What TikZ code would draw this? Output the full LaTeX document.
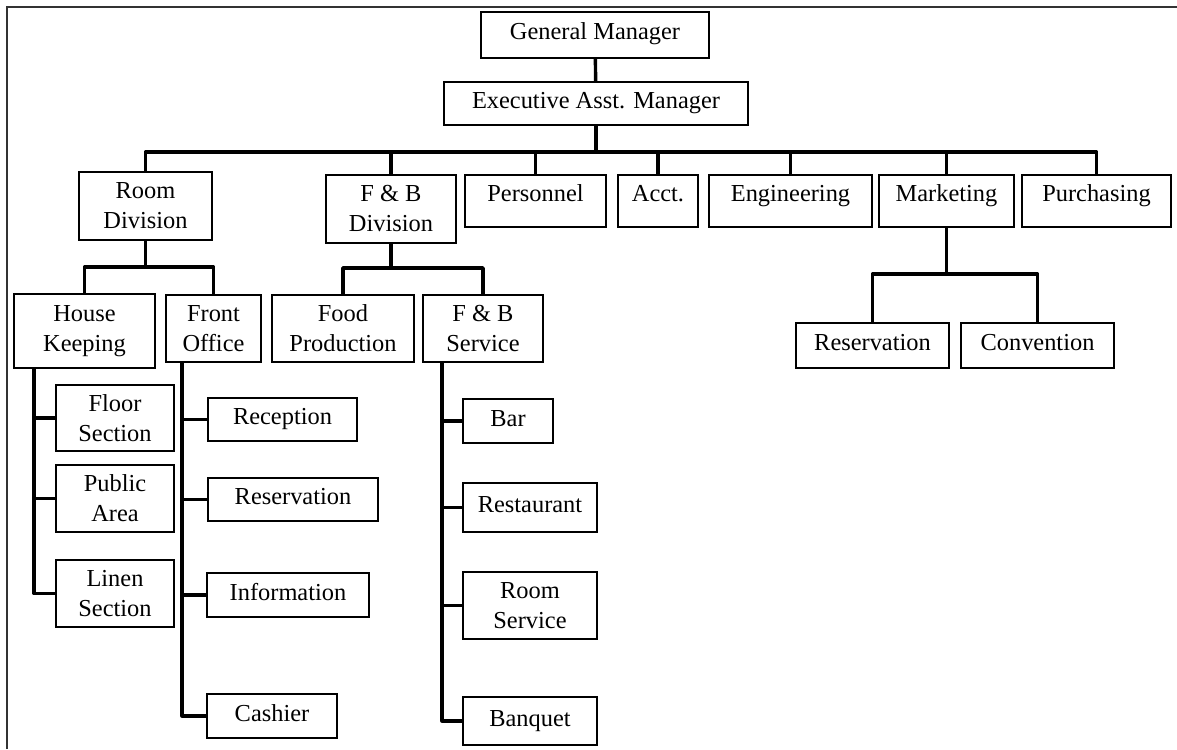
\documentclass[tikz,border=0pt]{standalone}
\usepackage{fontspec}
\setmainfont{Liberation Serif}
\usetikzlibrary{shadows}
\tikzset{
	box/.style={draw,line width=0.9pt,inner sep=0pt,align=center,fill=white,
		font=\fontsize{12.2}{15}\selectfont,
		drop shadow={shadow xshift=0.7pt,shadow yshift=-0.7pt,opacity=0.45,fill=black}},
	one/.style={text height=9pt,text depth=4pt},
	top/.style={text height=9pt,text depth=9pt},
	conn/.style={line width=1.7pt,line join=round,line cap=round},
}
\begin{document}
\begin{tikzpicture}[x=0.5pt,y=-0.5pt]
	\useasboundingbox (0,0) rectangle (1177,749);
	\draw[line width=0.8pt,black!80] (7,749)--(7,7)--(1177,7);
	% top
	\node[box,one,minimum width=114pt,minimum height=23pt] (gm) at (595,35) {General Manager};
	\node[box,one,minimum width=152pt,minimum height=21.5pt] (eam) at (596,103.5) {Executive Asst. Manager};
	% second row
	\node[box,minimum width=66.5pt,minimum height=34pt] (roomdiv) at (145.5,206) {Room\\Division};
	\node[box,minimum width=65pt,minimum height=34pt] (fbdiv) at (391,209) {F \& B\\Division};
	\node[box,top,minimum width=70.5pt,minimum height=26pt] (pers) at (535.5,201) {Personnel};
	\node[box,top,minimum width=40pt,minimum height=26pt] (acct) at (658,201) {Acct.};
	\node[box,top,minimum width=81.5pt,minimum height=26pt] (eng) at (790.5,201) {Engineering};
	\node[box,top,minimum width=67.5pt,minimum height=26pt] (mkt) at (946.5,201) {Marketing};
	\node[box,top,minimum width=74.5pt,minimum height=26pt] (purch) at (1096.5,201) {Purchasing};
	% third row
	\node[box,minimum width=70.5pt,minimum height=37pt] (hk) at (84.5,331) {House\\Keeping};
	\node[box,minimum width=47.5pt,minimum height=33.5pt] (fo) at (213.5,328.5) {Front\\Office};
	\node[box,minimum width=71pt,minimum height=33.5pt] (food) at (343,328.5) {Food\\Production};
	\node[box,minimum width=60pt,minimum height=33.5pt] (fbs) at (483,328.5) {F \& B\\Service};
	\node[box,one,minimum width=76.5pt,minimum height=22.5pt] (mres) at (872.5,345.5) {Reservation};
	\node[box,one,minimum width=76.5pt,minimum height=22.5pt] (conv) at (1037.5,345.5) {Convention};
	% house keeping
	\node[box,minimum width=59pt,minimum height=33pt] (floor) at (115,418) {Floor\\Section};
	\node[box,minimum width=59pt,minimum height=33.5pt] (public) at (115,498.5) {Public\\Area};
	\node[box,minimum width=59pt,minimum height=33.5pt] (linen) at (115,593.5) {Linen\\Section};
	% front office
	\node[box,one,minimum width=74.5pt,minimum height=21.5pt] (rec) at (282.5,419.5) {Reception};
	\node[box,one,minimum width=85pt,minimum height=21.5pt] (fres) at (293,499.5) {Reservation};
	\node[box,one,minimum width=81pt,minimum height=22pt] (info) at (288,595) {Information};
	\node[box,one,minimum width=65pt,minimum height=22pt] (cash) at (272,716) {Cashier};
	% f & b service
	\node[box,one,minimum width=45pt,minimum height=22pt] (bar) at (508,421) {Bar};
	\node[box,one,minimum width=67pt,minimum height=24.5pt] (rest) at (530,507.5) {Restaurant};
	\node[box,minimum width=67pt,minimum height=33.5pt] (rs) at (530,605.5) {Room\\Service};
	\node[box,one,minimum width=67pt,minimum height=24pt] (banq) at (530,721) {Banquet};
	% connectors
	\coordinate (bus) at (eam.south |- 0,152);
	\draw[conn] (gm)--(eam);
	\draw[conn] (eam.south)--(bus);
	\draw[conn] (roomdiv.north) |- (bus) -| (purch.north);
	\foreach \n in {fbdiv,pers,acct,eng,mkt}
	\draw[conn] (\n.north)--(\n.north |- bus);
	\coordinate (rbus) at (roomdiv.south |- 0,267);
	\draw[conn] (roomdiv.south)--(rbus);
	\draw[conn] (hk.north) |- (rbus) -| (fo.north);
	\coordinate (fbus) at (fbdiv.south |- 0,268);
	\draw[conn] (fbdiv.south)--(fbus);
	\draw[conn] (food.north) |- (fbus) -| (fbs.north);
	\coordinate (mbus) at (mkt.south |- 0,274);
	\draw[conn] (mkt.south)--(mbus);
	\draw[conn] (mres.north) |- (mbus) -| (conv.north);
	\coordinate (hkl) at ([xshift=10.5pt]hk.south west);
	\draw[conn] (hkl) |- (linen.west);
	\foreach \n in {floor,public}
	\draw[conn] (hkl |- \n.west)--(\n.west);
	\coordinate (fol) at ([xshift=8.5pt]fo.south west);
	\draw[conn] (fol) |- (cash.west);
	\foreach \n in {rec,fres,info}
	\draw[conn] (fol |- \n.west)--(\n.west);
	\coordinate (fbl) at ([xshift=10pt]fbs.south west);
	\draw[conn] (fbl) |- (banq.west);
	\foreach \n in {bar,rest,rs}
	\draw[conn] (fbl |- \n.west)--(\n.west);
\end{tikzpicture}
\end{document}
